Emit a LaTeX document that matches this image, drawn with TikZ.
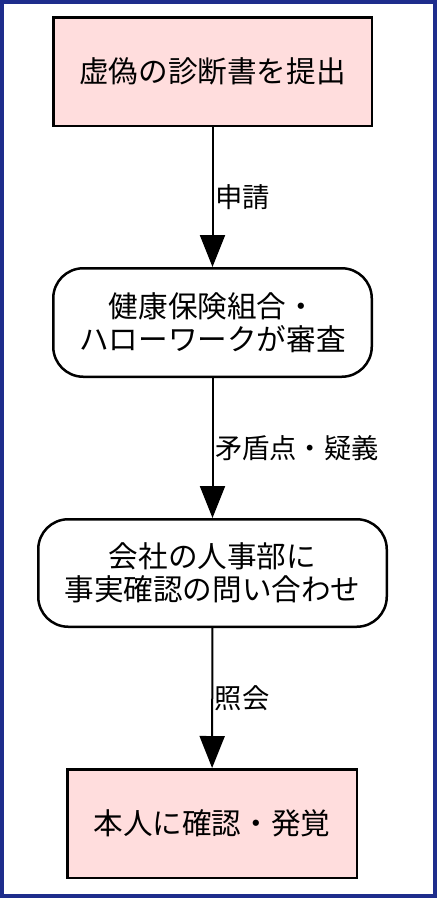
\documentclass[tikz,border=0pt]{standalone}
\usepackage{fontspec}
\setmainfont{Noto Sans CJK JP}
\usetikzlibrary{arrows.meta}
\definecolor{frameblue}{RGB}{30,45,140}
\definecolor{pinkfill}{RGB}{255,221,221}
\tikzset{
  stepbox/.style={draw=black,line width=2.5pt,fill=pinkfill,inner sep=0pt,align=center,
    font=\fontsize{29.6}{33}\selectfont},
  roundbox/.style={draw=black,line width=2.5pt,fill=white,rounded corners=30pt,inner sep=0pt,align=center,
    font=\fontsize{29.6}{33}\selectfont},
  arr/.style={line width=2pt,-{Triangle[width=25pt,length=32pt]}},
  lab/.style={anchor=west,inner sep=1.5pt,font=\fontsize{27.3}{30}\selectfont}
}
\begin{document}
\begin{tikzpicture}[x=1pt,y=-1pt]
\fill[frameblue] (0,0) rectangle (437,898);
\fill[white] (4,4) rectangle (433,894);
\useasboundingbox (0,0) rectangle (437,898);
\node[stepbox,minimum width=318.5pt,minimum height=108.5pt] (b1) at (212.5,71.5) {虚偽の診断書を提出};
\node[roundbox,minimum width=318.5pt,minimum height=108.5pt] (b2) at (212.5,322.5) {健康保険組合・\\ハローワークが審査};
\node[roundbox,minimum width=348.5pt,minimum height=107.5pt] (b3) at (212.5,573) {会社の人事部に\\事実確認の問い合わせ};
\node[stepbox,minimum width=289.5pt,minimum height=108.5pt] (b4) at (212,823.5) {本人に確認・発覚};
\draw[arr] (b1) -- node[lab]{申請} (b2);
\draw[arr] (b2) -- node[lab]{矛盾点・疑義} (b3);
\draw[arr] (b3) -- node[lab]{照会} (b4);
\end{tikzpicture}
\end{document}
